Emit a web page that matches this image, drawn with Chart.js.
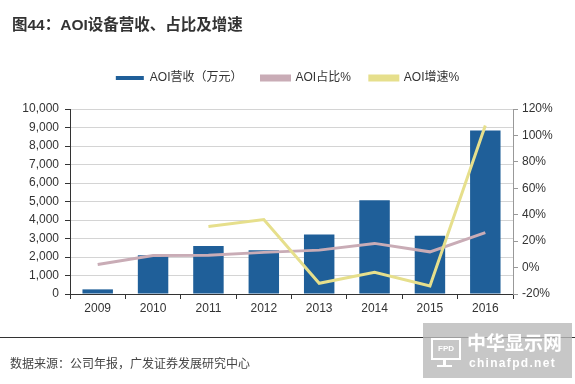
<!DOCTYPE html>
<html><head><meta charset="utf-8">
<script src="https://cdn.jsdelivr.net/npm/chart.js@4.4.0/dist/chart.umd.min.js"></script>
<style>
html,body{margin:0;padding:0;background:#fff;width:575px;height:384px;overflow:hidden;position:relative;font-family:"Liberation Sans","Noto Sans CJK SC",sans-serif;}
#wrap{position:absolute;left:0;top:0;width:575px;height:384px;}
#title{position:absolute;left:12px;top:12px;font-size:15.5px;font-weight:bold;color:#333;font-family:"Liberation Sans","Noto Sans CJK SC",sans-serif;}
#rule{position:absolute;left:0;top:337px;width:575px;height:1px;background:#333;}
#src{position:absolute;left:10px;top:354px;font-size:12px;color:#444;font-family:"Noto Sans CJK SC",sans-serif;}
#wm{position:absolute;left:423px;top:323px;width:149px;height:55px;background:rgba(185,185,185,0.8);color:#fff;}
#wm .a{position:absolute;left:44px;top:8px;font-size:19px;line-height:22px;font-weight:bold;font-family:"Noto Sans CJK SC",sans-serif;letter-spacing:0px;}
#wm .b{position:absolute;left:46px;top:33px;font-size:12px;line-height:14px;font-weight:bold;letter-spacing:1.3px;}
#wm .c{position:absolute;left:8px;top:15px;width:26px;height:18px;border:2px solid #fff;font-size:8px;font-weight:bold;text-align:center;line-height:18px;}
#wm .d{position:absolute;left:20px;top:37px;width:3px;height:6px;background:#fff;}
#wm .e{position:absolute;left:14px;top:42px;width:15px;height:2px;background:#fff;}
</style></head>
<body>
<div id="wrap"><canvas id="c" width="575" height="384"></canvas></div>
<div id="title">图44：AOI设备营收、占比及增速</div>
<div id="rule"></div>
<div id="src">数据来源：公司年报，广发证券发展研究中心</div>
<div id="wm"><div class="c">FPD</div><div class="d"></div><div class="e"></div><div class="a">中华显示网</div><div class="b">chinafpd.net</div></div>
<script>
const years = ['2009','2010','2011','2012','2013','2014','2015','2016'];
const revenue = [250, 2100, 2600, 2370, 3220, 5070, 3150, 8840];
const sharePct = [2.4, 9.2, 9.4, 11.5, 13.2, 18.3, 11.9, 26.5];
const growthPct = [null, null, 31, 36.4, -11.9, -3.6, -14, 107.5];
const leftTicks = [0,1000,2000,3000,4000,5000,6000,7000,8000,9000,10000];
const rightTicks = [-20,0,20,40,60,80,100,120];

const font = {family:'"Liberation Sans","Noto Sans CJK SC",sans-serif', size:12};
const legendGap = {
  id:'legendGap',
  afterInit(chart){
    const lg = chart.legend;
    if(!lg) return;
    const f = lg.fit.bind(lg);
    lg.fit = function(){ f(); this.height += 15; };
  }
};
new Chart(document.getElementById('c'), {
  data: {
    labels: years,
    datasets: [
      {type:'bar', label:'AOI营收（万元）', data: revenue, backgroundColor:'#1f5f99', borderWidth:0, yAxisID:'y', categoryPercentage:1, barPercentage:0.55, order:2},
      {type:'line', label:'AOI占比%', data: sharePct, borderColor:'#c9acb6', backgroundColor:'#c9acb6', borderWidth:3, pointRadius:0, tension:0, yAxisID:'y1', order:1},
      {type:'line', label:'AOI增速%', data: growthPct, borderColor:'#e6df8c', backgroundColor:'#e6df8c', borderWidth:3, pointRadius:0, tension:0, yAxisID:'y1', order:0, spanGaps:false}
    ]
  },
  plugins:[legendGap],
  options: {
    responsive:false, animation:false, devicePixelRatio:1,
    layout:{padding:{top:53, bottom:66, left:0, right:0}},
    plugins:{
      legend:{position:'top', labels:{boxWidth:28, boxHeight:4, padding:19, color:'#333', font:{family:font.family,size:12},
        sort:(a,b)=>a.datasetIndex-b.datasetIndex}},
      tooltip:{enabled:false}
    },
    scales:{
      x:{
        grid:{display:true, drawOnChartArea:false, color:'#333', tickLength:5, offset:true},
        border:{color:'#333', width:1},
        ticks:{color:'#333', font:font, padding:2},
        afterFit(s){ s.height = 24; }
      },
      y:{
        position:'left', min:0, max:10000,
        afterBuildTicks(s){ s.ticks = leftTicks.map(v=>({value:v})); },
        grid:{color:'#d4d4d4', tickLength:5, tickColor:'#333'},
        border:{color:'#333', width:1},
        ticks:{color:'#333', font:font, padding:6, callback:v=>v.toLocaleString('en-US')},
        afterFit(s){ s.width = 70; }
      },
      y1:{
        position:'right', min:-20, max:120,
        afterBuildTicks(s){ s.ticks = rightTicks.map(v=>({value:v})); },
        grid:{drawOnChartArea:false, color:'#999', tickLength:5},
        border:{color:'#999', width:1},
        ticks:{color:'#333', font:font, padding:4, callback:v=>v+'%'},
        afterFit(s){ s.width = 62; }
      }
    }
  }
});
</script>
</body></html>
